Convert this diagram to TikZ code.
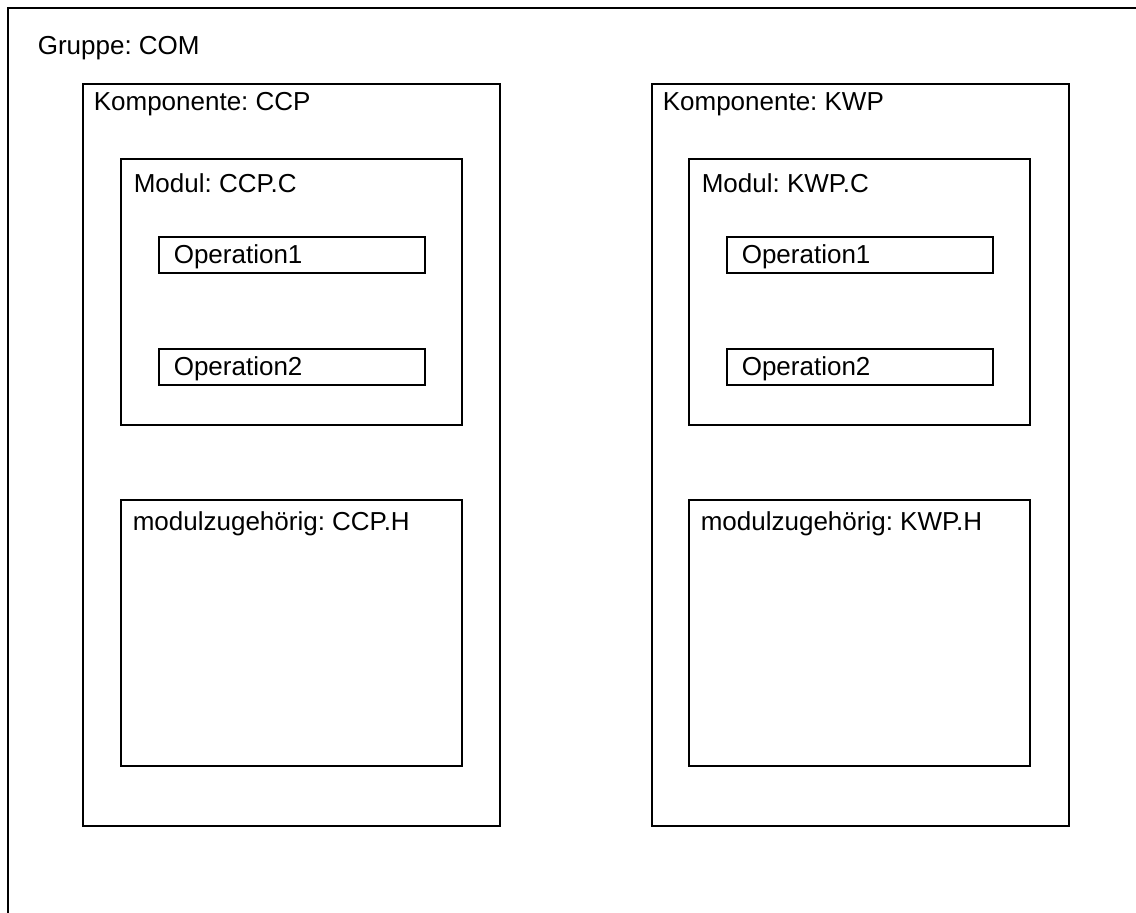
\documentclass[tikz,border=0pt]{standalone}
\usepackage{fontspec}
\setmainfont{Liberation Sans}
\usepackage{tikz}
\usetikzlibrary{positioning}
\frenchspacing

\begin{document}
\begin{tikzpicture}[x=1pt,y=-1pt,line width=1.6pt,
  box node/.style={rectangle,draw,outer sep=0pt,inner sep=0pt,anchor=north west},
  comp node/.style={box node,minimum width=417pt,minimum height=742pt},
  mod node/.style={box node,minimum width=341pt,minimum height=266pt},
  op node/.style={box node,minimum width=266pt,minimum height=36pt},
  title node/.style={inner sep=0pt,anchor=north west,font=\fontsize{26}{31}\selectfont},
  op text/.style={inner sep=0pt,anchor=west,font=\fontsize{26}{31}\selectfont}]
  \useasboundingbox (0,0) rectangle (1136,913);
  \clip (0,0) rectangle (1136,913);
  % group frame, runs off the page at right and bottom
  \node[box node,minimum width=1200pt,minimum height=1000pt] (com) at (8,8) {};
  \node[title node] (comtext) at ([shift={(29,28)}]com.north west) {Gruppe: COM};

  % component CCP
  \node[comp node] (ccp) at (83,84) {};
  \node[title node] (ccptext) at ([shift={(10,8)}]ccp.north west) {Komponente: CCP};
  \node[mod node] (ccpc) at (121,159) {};
  \node[title node] (ccpctext) at ([shift={(12,14)}]ccpc.north west) {Modul: CCP.C};
  \node[op node] (ccpop1) at (159,237) {};
  \node[op text] (ccpop1text) at ([shift={(14,2)}]ccpop1.west) {Operation1};
  \node[op node] (ccpop2) [below=76pt of ccpop1.south west,anchor=north west] {};
  \node[op text] (ccpop2text) at ([shift={(14,2)}]ccpop2.west) {Operation2};
  \node[mod node] (ccph) at (121,500) {};
  \node[title node] (ccphtext) at ([shift={(11,11)}]ccph.north west) {modulzugehörig: CCP.H};

  % component KWP
  \node[comp node] (kwp) [right=152pt of ccp.north east,anchor=north west] {};
  \node[title node] (kwptext) at ([shift={(10,8)}]kwp.north west) {Komponente: KWP};
  \node[mod node] (kwpc) at (689,159) {};
  \node[title node] (kwpctext) at ([shift={(12,14)}]kwpc.north west) {Modul: KWP.C};
  \node[op node] (kwpop1) at (727,237) {};
  \node[op text] (kwpop1text) at ([shift={(14,2)}]kwpop1.west) {Operation1};
  \node[op node] (kwpop2) [below=76pt of kwpop1.south west,anchor=north west] {};
  \node[op text] (kwpop2text) at ([shift={(14,2)}]kwpop2.west) {Operation2};
  \node[mod node] (kwph) at (689,500) {};
  \node[title node] (kwphtext) at ([shift={(11,11)}]kwph.north west) {modulzugehörig: KWP.H};
\end{tikzpicture}
\end{document}
